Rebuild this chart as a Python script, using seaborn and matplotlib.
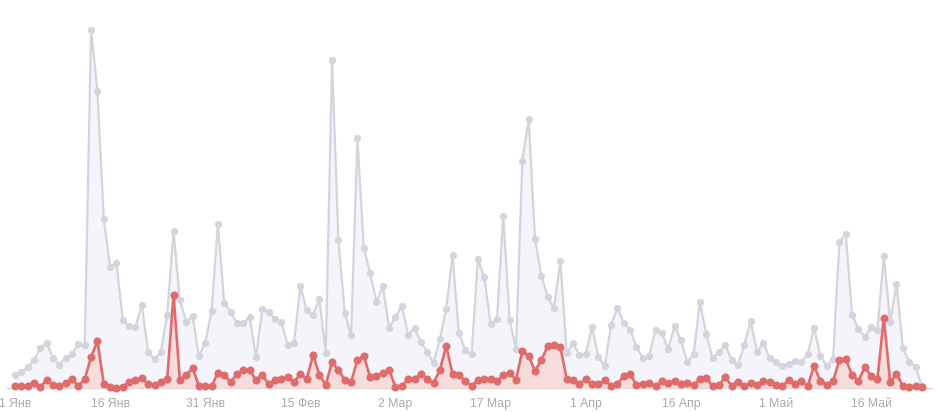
import numpy as np
import pandas as pd
import matplotlib.pyplot as plt
import seaborn as sns

# ---------- data (daily values, 1 Jan .. 24 May) ----------
allVisits = [13, 16, 21, 28, 40, 45, 30, 23, 30, 34, 44, 43, 358, 297, 169, 121, 125, 68, 62, 61,
             83, 36, 29, 36, 73, 157, 88, 66, 72, 32, 45, 77, 164, 85, 76, 65, 65, 71, 31, 79,
             76, 69, 66, 43, 45, 102, 78, 73, 89, 35, 328, 148, 75, 53, 250, 140, 115, 86, 102, 60,
             71, 82, 53, 60, 46, 36, 25, 49, 79, 133, 55, 38, 34, 129, 111, 64, 69, 172, 68, 39,
             227, 269, 149, 112, 91, 80, 127, 35, 45, 33, 34, 61, 31, 22, 63, 80, 65, 58, 41, 30,
             32, 58, 55, 39, 62, 48, 26, 34, 86, 54, 30, 36, 43, 28, 23, 43, 67, 36, 45, 30,
             26, 22, 24, 27, 26, 34, 60, 32, 22, 29, 146, 154, 73, 59, 51, 61, 58, 132, 66, 104,
             40, 26, 21, 2]

redVisits = [2, 2, 2, 5, 1, 8, 3, 2, 5, 9, 2, 9, 31, 47, 4, 1, 0.5, 1, 6, 8,
             10, 4, 3, 6, 9, 93, 8, 13, 20, 2, 2, 2, 15, 13, 6, 14, 18, 18, 8, 13,
             4, 8, 9, 11, 6, 14, 9, 33, 13, 3, 26, 18, 8, 6, 28, 32, 11, 12, 15, 18,
             1, 2, 9, 9, 14, 9, 5, 18, 42, 14, 13, 7, 2, 8, 9, 9, 7, 13, 15, 8,
             37, 32, 17, 28, 42, 43, 41, 9, 8, 4, 9, 4, 4, 8, 2, 4, 12, 14, 3, 4,
             5, 2, 7, 5, 7, 4, 5, 3, 9, 10, 2, 3, 11, 2, 6, 2, 5, 3, 7, 6,
             3, 2, 8, 4, 7, 2, 22, 7, 3, 7, 28, 29, 13, 7, 21, 12, 9, 70, 6, 14,
             2, 1, 2, 1]

tickDays = [0, 15, 30, 45, 60, 75, 90, 105, 120, 135]
tickLabels = ["1 Янв", "16 Янв", "31 Янв", "15 Фев", "2 Мар",
              "17 Мар", "1 Апр", "16 Апр", "1 Май", "16 Май"]

days = np.arange(len(allVisits))
df = pd.DataFrame({"day": days, "all": allVisits, "red": redVisits})

# ---------- plot ----------
sns.set_style("white")
plt.rcParams['font.family'] = ['Liberation Sans', 'DejaVu Sans']

fig = plt.figure(figsize=(9.39, 4.12), dpi=100)
ax = fig.add_axes([7/939, 24/412, 925/939, 388/412])

ax.fill_between(df["day"], df["all"], color="#f4f4fa", zorder=1, lw=0)
sns.lineplot(data=df, x="day", y="all", color="#d4d4dc", lw=1.6, marker="o",
             markersize=5.2, markeredgewidth=0, ax=ax, zorder=2, clip_on=False)

ax.fill_between(df["day"], df["red"], color="#f7dcdc", zorder=3, lw=0)
sns.lineplot(data=df, x="day", y="red", color="#e06b6b", lw=1.9, marker="o",
             markersize=5.8, markeredgewidth=0, ax=ax, zorder=4, clip_on=False)

ax.set_xlim(-1.26, 144.6)
ax.set_ylim(0, 388)
ax.set_yticks([])
ax.set_xticks(tickDays)
ax.set_xticklabels(tickLabels)
ax.set_xticks(days, minor=True)
ax.tick_params(axis="x", which="both", length=4, width=0.8, color="#cccccc",
               labelcolor="#aaaaaa", labelsize=8.8, pad=3, direction="out")
for lbl in ax.get_xticklabels():
    lbl.set_x(lbl.get_position()[0])
ax.set_xlabel("")
ax.set_ylabel("")

for side in ["left", "top", "right"]:
    ax.spines[side].set_visible(False)
ax.spines["bottom"].set_color("#cccccc")
ax.spines["bottom"].set_linewidth(0.8)

fig.savefig("out.png", dpi=100)
